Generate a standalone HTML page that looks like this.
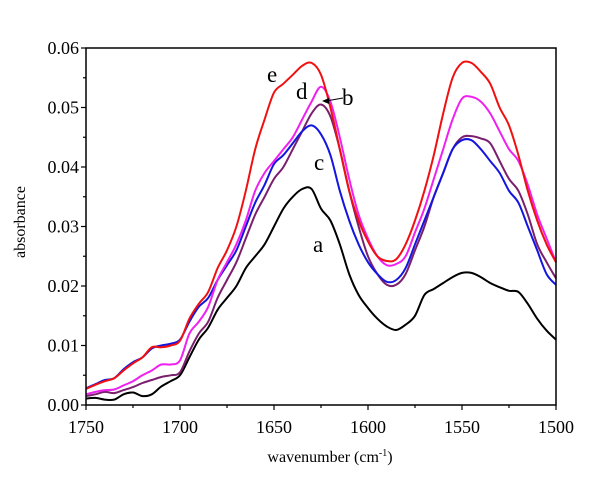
<!DOCTYPE html>
<html><head><meta charset="utf-8"><style>
body{margin:0;background:#fff;}
svg{display:block;font-family:"Liberation Serif",serif;}
</style></head><body>
<svg id="chart" width="600" height="484" viewBox="0 0 600 484" xmlns="http://www.w3.org/2000/svg">
<g id="curves"></g>
<rect x="86" y="48" width="470" height="357" fill="none" stroke="#000" stroke-width="1.5"/>
<g id="axes"></g>
<text transform="translate(25,222) rotate(-90)" text-anchor="middle" font-size="16">absorbance</text>
<text x="330" y="462" text-anchor="middle" font-size="16">wavenumber (cm<tspan dy="-6" font-size="10">-1</tspan><tspan dy="6">)</tspan></text>
<text x="267" y="82" font-size="23">e</text>
<text x="296" y="99" font-size="23">d</text>
<text x="342" y="105" font-size="23">b</text>
<line x1="343" y1="98" x2="326" y2="101" stroke="#000" stroke-width="1"/>
<polygon points="322,101 329,98 329,104" fill="#000"/>
<text x="314" y="170" font-size="23">c</text>
<text x="313" y="252" font-size="23">a</text>
</svg>
<script>
const wn = [1750,1745,1740,1735,1730,1725,1720,1715,1710,1705,1700,1695,1690,1685,1680,1675,1670,1665,1660,1655,1650,1645,1640,1635,1630,1625,1620,1615,1610,1605,1600,1595,1590,1585,1580,1575,1570,1565,1560,1555,1550,1545,1540,1535,1530,1525,1520,1515,1510,1505,1500];
const seriesA = [0.0011,0.0012,0.0009,0.0009,0.0018,0.0021,0.0015,0.0018,0.0031,0.004,0.005,0.008,0.011,0.013,0.016,0.018,0.02,0.023,0.025,0.027,0.03,0.033,0.035,0.0363,0.0363,0.033,0.031,0.027,0.022,0.0185,0.0163,0.0145,0.0132,0.0126,0.0135,0.015,0.0185,0.0195,0.0205,0.0215,0.0222,0.0222,0.0215,0.0205,0.0198,0.0192,0.019,0.017,0.0145,0.0125,0.011];
const seriesB = [0.0015,0.0018,0.0022,0.002,0.0025,0.003,0.0037,0.0042,0.0047,0.005,0.0055,0.009,0.012,0.014,0.018,0.021,0.024,0.028,0.032,0.035,0.038,0.04,0.043,0.046,0.049,0.0505,0.0485,0.043,0.036,0.03,0.025,0.022,0.0202,0.0202,0.022,0.026,0.03,0.035,0.039,0.043,0.045,0.0452,0.0448,0.044,0.041,0.038,0.036,0.032,0.027,0.024,0.0213];
const seriesC = [0.0028,0.0035,0.0042,0.0045,0.006,0.0072,0.008,0.0095,0.01,0.0103,0.011,0.014,0.0165,0.018,0.021,0.0235,0.026,0.03,0.034,0.037,0.0405,0.042,0.044,0.046,0.047,0.0455,0.042,0.036,0.031,0.027,0.024,0.022,0.0207,0.021,0.023,0.027,0.031,0.035,0.039,0.043,0.0445,0.0445,0.043,0.041,0.039,0.036,0.034,0.03,0.026,0.022,0.0202];
const seriesD = [0.0018,0.0022,0.0025,0.0026,0.0033,0.004,0.005,0.0058,0.0068,0.0068,0.0075,0.012,0.014,0.0165,0.021,0.024,0.027,0.031,0.036,0.039,0.041,0.043,0.045,0.048,0.051,0.0535,0.051,0.045,0.038,0.032,0.028,0.025,0.0235,0.0237,0.025,0.029,0.033,0.038,0.043,0.048,0.0515,0.0518,0.051,0.049,0.046,0.043,0.041,0.037,0.032,0.028,0.024];
const seriesE = [0.0027,0.0034,0.004,0.0045,0.0058,0.007,0.008,0.0097,0.0097,0.01,0.0108,0.0145,0.017,0.019,0.023,0.026,0.03,0.036,0.043,0.048,0.0525,0.054,0.0555,0.057,0.0575,0.0555,0.05,0.043,0.036,0.031,0.0275,0.025,0.0242,0.0245,0.027,0.031,0.036,0.042,0.049,0.055,0.0575,0.0575,0.056,0.054,0.05,0.047,0.042,0.036,0.031,0.027,0.024];
const yTicks = ["0.00","0.01","0.02","0.03","0.04","0.05","0.06"];
const xTicks = ["1750","1700","1650","1600","1550","1500"];

const NS="http://www.w3.org/2000/svg";
const X0=86,X1=556,Y0=405,Y1=48;
function xs(w){return X0+(1750-w)/250*(X1-X0);}
function ys(v){return Y0-v/0.06*(Y0-Y1);}
function smooth(pts){
  let d='M'+pts[0][0].toFixed(1)+','+pts[0][1].toFixed(1);
  for(let i=0;i<pts.length-1;i++){
    const p0=pts[Math.max(0,i-1)],p1=pts[i],p2=pts[i+1],p3=pts[Math.min(pts.length-1,i+2)];
    const c1x=p1[0]+(p2[0]-p0[0])/6,c1y=p1[1]+(p2[1]-p0[1])/6;
    const c2x=p2[0]-(p3[0]-p1[0])/6,c2y=p2[1]-(p3[1]-p1[1])/6;
    d+='C'+c1x.toFixed(1)+','+c1y.toFixed(1)+' '+c2x.toFixed(1)+','+c2y.toFixed(1)+' '+p2[0].toFixed(1)+','+p2[1].toFixed(1);
  }
  return d;
}
const cg=document.getElementById('curves');
[[seriesA,'#000','series-a'],[seriesB,'#7a1f6e','series-b'],[seriesC,'#1515e0','series-c'],[seriesD,'#f020f0','series-d'],[seriesE,'#f01010','series-e']].forEach(s=>{
  const p=document.createElementNS(NS,'path');
  p.setAttribute('d',smooth(s[0].map((v,i)=>[xs(wn[i]),ys(v)])));
  p.setAttribute('fill','none');p.setAttribute('stroke',s[1]);p.setAttribute('stroke-width','2');
  p.setAttribute('stroke-linejoin','round');
  
  
  cg.appendChild(p);
});
const ag=document.getElementById('axes');
function line(x1,y1,x2,y2,name){const l=document.createElementNS(NS,'line');l.setAttribute('x1',x1);l.setAttribute('y1',y1);l.setAttribute('x2',x2);l.setAttribute('y2',y2);l.setAttribute('stroke','#000');l.setAttribute('stroke-width','1.2');


ag.appendChild(l);}
function text(x,y,t,anchor,name){const e=document.createElementNS(NS,'text');e.setAttribute('x',x);e.setAttribute('y',y);e.setAttribute('text-anchor',anchor);e.setAttribute('font-size','18');e.textContent=t;


ag.appendChild(e);}
yTicks.forEach((t,i)=>{const y=ys(parseFloat(t));line(X0,y,X0-5,y,'y-tick');text(X0-7,y+6,t,'end','y-tick-label');
  if(i<yTicks.length-1){const ym=ys(parseFloat(t)+0.005);line(X0,ym,X0-3,ym,'y-minor-tick');}});
xTicks.forEach((t,i)=>{const x=xs(parseFloat(t));line(x,Y0,x,Y0+5,'x-tick');text(x,Y0+28,t,'middle','x-tick-label');
  if(i<xTicks.length-1){const xm=xs(parseFloat(t)-25);line(xm,Y0,xm,Y0+3,'x-minor-tick');}});
</script>
</body></html>
